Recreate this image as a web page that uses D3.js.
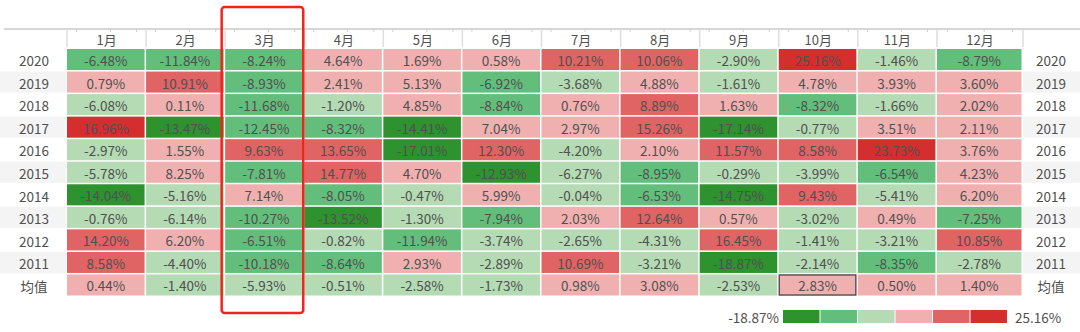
<!DOCTYPE html>
<html><head><meta charset="utf-8">
<script src="https://cdn.jsdelivr.net/npm/d3@7/dist/d3.min.js"></script>
<style>
html,body{margin:0;padding:0;background:#fff;}
svg{display:block;font-family:"Noto Sans CJK SC","Noto Sans",sans-serif;}
</style></head>
<body>
<svg id="chart" width="1080" height="332"></svg>
<script>
const months = ["1月","2月","3月","4月","5月","6月","7月","8月","9月","10月","11月","12月"];
const rowLabels = ["2020","2019","2018","2017","2016","2015","2014","2013","2012","2011","均值"];
const v2020 = [-6.48,-11.84,-8.24,4.64,1.69,0.58,10.21,10.06,-2.90,25.16,-1.46,-8.79];
const v2019 = [0.79,10.91,-8.93,2.41,5.13,-6.92,-3.68,4.88,-1.61,4.78,3.93,3.60];
const v2018 = [-6.08,0.11,-11.68,-1.20,4.85,-8.84,0.76,8.89,1.63,-8.32,-1.66,2.02];
const v2017 = [16.96,-13.47,-12.45,-8.32,-14.41,7.04,2.97,15.26,-17.14,-0.77,3.51,2.11];
const v2016 = [-2.97,1.55,9.63,13.65,-17.01,12.30,-4.20,2.10,11.57,8.58,23.73,3.76];
const v2015 = [-5.78,8.25,-7.81,14.77,4.70,-12.93,-6.27,-8.95,-0.29,-3.99,-6.54,4.23];
const v2014 = [-14.04,-5.16,7.14,-8.05,-0.47,5.99,-0.04,-6.53,-14.75,9.43,-5.41,6.20];
const v2013 = [-0.76,-6.14,-10.27,-13.52,-1.30,-7.94,2.03,12.64,0.57,-3.02,0.49,-7.25];
const v2012 = [14.20,6.20,-6.51,-0.82,-11.94,-3.74,-2.65,-4.31,16.45,-1.41,-3.21,10.85];
const v2011 = [8.58,-4.40,-10.18,-8.64,2.93,-2.89,10.69,-3.21,-18.87,-2.14,-8.35,-2.78];
const vMean = [0.44,-1.40,-5.93,-0.51,-2.58,-1.73,0.98,3.08,-2.53,2.83,0.50,1.40];
const palette = ["#2e922f","#63be7b","#b4dbb4","#f0b0b0","#e06464","#d52e2e"];
const highlightMonth = "3月";
const markedCell = {row:"均值", month:"10月"};

const series = [v2020,v2019,v2018,v2017,v2016,v2015,v2014,v2013,v2012,v2011,vMean];
const cells = [];
series.forEach((vals,i)=>vals.forEach((v,j)=>cells.push({row:rowLabels[i],month:months[j],value:v})));

const all = cells.map(d=>d.value);
const vmin = d3.min(all), vmax = d3.max(all);
const color = d3.scaleThreshold()
  .domain([vmin*2/3, vmin/3, 0, vmax/3, vmax*2/3])
  .range(palette);

const svg = d3.select("#chart");
const x = d3.scaleBand().domain(months).range([67,1016]);
const y = d3.scaleBand().domain(rowLabels).range([49,297]);
const rightCol = 1023;
const lastMonth = months[months.length-1];
const colW = m => (m===lastMonth ? rightCol - x(m) : x.bandwidth());
const gap = 1.5;
const textCol = "#505050";

// header
const headerTop = 29, headerBottom = 47;
svg.append("line").attr("x1",4).attr("x2",1080).attr("y1",headerTop).attr("y2",headerTop)
  .attr("stroke","#d6d6d6").attr("stroke-width",2);
const seps = [x.range()[0]].concat(months.map(m=>x(m)+colW(m)));
svg.append("g").selectAll("line").data(seps).join("line")
  .attr("x1",d=>d).attr("x2",d=>d).attr("y1",headerTop).attr("y2",headerBottom)
  .attr("stroke","#dedede").attr("stroke-width",1.5);
const tickFr = [0.12,0.55,0.88];
svg.append("g").selectAll("line").data(months.flatMap(m=>tickFr.map(f=>x(m)+f*colW(m)))).join("line")
  .attr("x1",d=>d).attr("x2",d=>d).attr("y1",headerTop).attr("y2",headerTop+3)
  .attr("stroke","#d0d0d0").attr("stroke-width",1);
svg.append("g").selectAll("text").data(months).join("text")
  .attr("x",d=>x(d)+colW(d)/2).attr("y",(headerTop+headerBottom)/2+1)
  .attr("text-anchor","middle").attr("dominant-baseline","central")
  .attr("font-size",13).attr("fill",textCol).text(d=>d);

// row label backgrounds
const rowBg = svg.append("g");
rowLabels.forEach((r,i)=>{
  if(i%2===1){
    rowBg.append("rect").attr("x",0).attr("y",y(r)).attr("width",x.range()[0]-1).attr("height",y.bandwidth()-gap).attr("fill","#f4f4f4");
    rowBg.append("rect").attr("x",rightCol).attr("y",y(r)).attr("width",1080-rightCol).attr("height",y.bandwidth()-gap).attr("fill","#f4f4f4");
  }
});
svg.append("g").selectAll("text").data(rowLabels).join("text")
  .attr("x",34).attr("y",d=>y(d)+y.bandwidth()/2)
  .attr("text-anchor","middle").attr("dominant-baseline","central")
  .attr("font-size",13.5).attr("fill",textCol).text(d=>d);
svg.append("g").selectAll("text").data(rowLabels).join("text")
  .attr("x",1051).attr("y",d=>y(d)+y.bandwidth()/2)
  .attr("text-anchor","middle").attr("dominant-baseline","central")
  .attr("font-size",13.5).attr("fill",textCol).text(d=>d);

// cells
const g = svg.append("g");
g.selectAll("rect").data(cells).join("rect")
  .attr("x",d=>x(d.month)).attr("y",d=>y(d.row))
  .attr("width",d=>colW(d.month)-gap).attr("height",y.bandwidth()-gap)
  .attr("fill",d=>color(d.value));
g.selectAll("text").data(cells).join("text")
  .attr("x",d=>x(d.month)+(colW(d.month)-gap)/2).attr("y",d=>y(d.row)+(y.bandwidth()-gap)/2+0.5)
  .attr("text-anchor","middle").attr("dominant-baseline","central")
  .attr("font-size",13.5).attr("fill",textCol)
  .text(d=>d.value.toFixed(2)+"%");

// marked cell border
svg.append("rect")
  .attr("x",x(markedCell.month)+0.5).attr("y",y(markedCell.row)+0.5)
  .attr("width",colW(markedCell.month)-gap-1).attr("height",y.bandwidth()-gap-1)
  .attr("fill","none").attr("stroke","#4a4a4a").attr("stroke-width",1.3);

// red highlight box
svg.append("rect")
  .attr("x",x(highlightMonth)-3.5).attr("y",7)
  .attr("width",x.bandwidth()+2.5).attr("height",306)
  .attr("rx",3).attr("fill","none").attr("stroke","#f0251c").attr("stroke-width",2.5);

// legend
const lx = d3.scaleBand().domain(palette).range([783,1008]);
svg.append("g").selectAll("rect").data(palette).join("rect")
  .attr("x",d=>lx(d)).attr("y",310).attr("width",lx.bandwidth()-1).attr("height",13)
  .attr("fill",d=>d);
svg.append("text").attr("x",lx.range()[0]-4).attr("y",317)
  .attr("text-anchor","end").attr("dominant-baseline","central")
  .attr("font-size",13.5).attr("fill",textCol).text(vmin.toFixed(2)+"%");
svg.append("text").attr("x",lx.range()[1]+7).attr("y",317)
  .attr("text-anchor","start").attr("dominant-baseline","central")
  .attr("font-size",13.5).attr("fill",textCol).text(vmax.toFixed(2)+"%");
</script>
</body></html>
